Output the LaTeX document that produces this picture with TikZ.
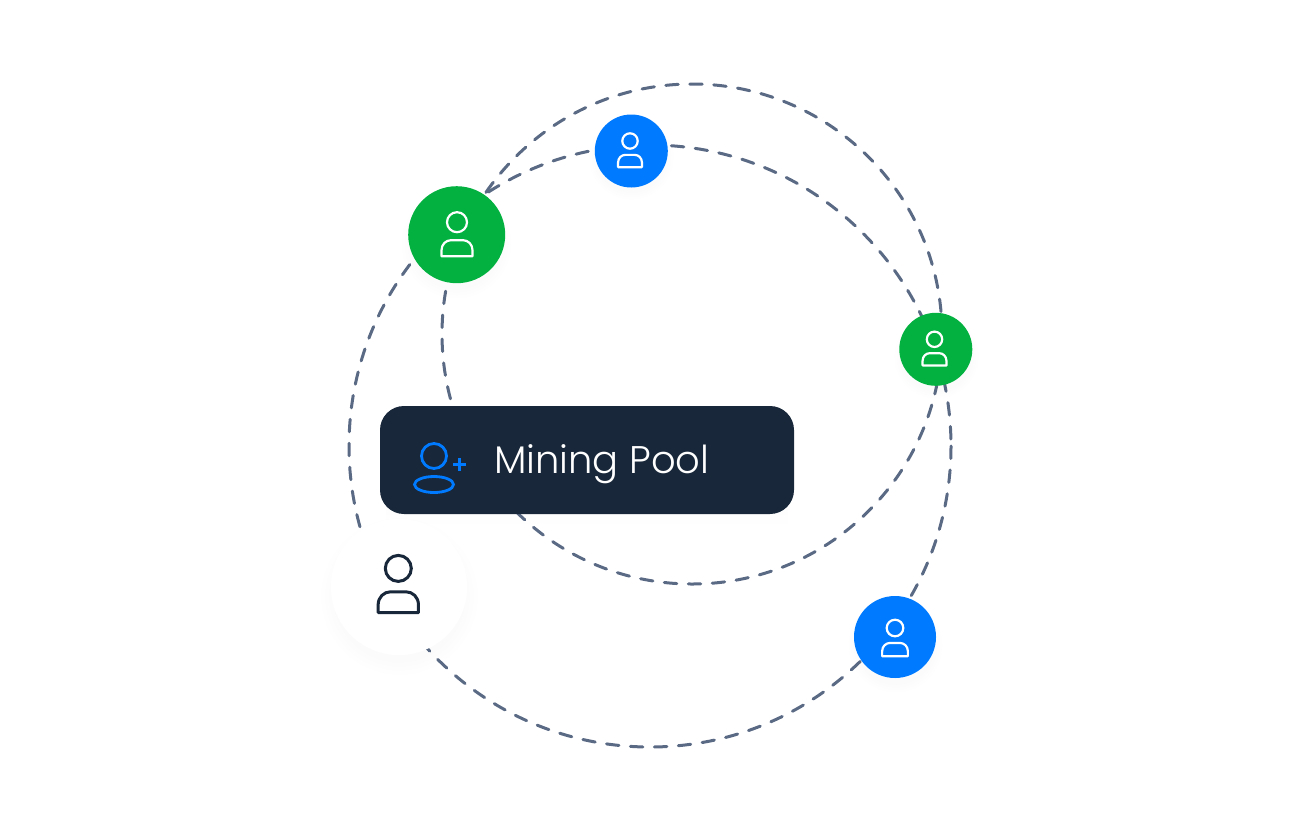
\documentclass[tikz,border=0pt]{standalone}
\usepackage{fontspec}
\setmainfont{Poppins}[UprightFont=* Light]
\usetikzlibrary{fadings}

\definecolor{ringgray}{HTML}{5A6A85}
\definecolor{poolgreen}{HTML}{03B140}
\definecolor{poolblue}{HTML}{007BFF}
\definecolor{carddark}{HTML}{182739}

\tikzset{
  pics/personicon/.style={code={
    \draw[pic actions] (0,-13) circle (10);
    \draw[pic actions, line join=round] (-15.5,21) -- (-15.5,15) .. controls (-15.5,9) and (-11,5) .. (-6,5) -- (6,5) .. controls (11,5) and (15.5,9) .. (15.5,15) -- (15.5,21) -- cycle;
  }}
}

\begin{document}
\begin{tikzpicture}[x=1pt,y=-1pt]
      \tikzstyle{ring}=[draw=ringgray, line width=3pt, line cap=round, dash pattern=on 12.5pt off 11.5pt]
      \tikzstyle{member}=[circle, inner sep=0pt]
      \tikzstyle{softglow}=[fill=black, opacity=0.014, path fading=circle with fuzzy edge 20 percent]
      \tikzstyle{icon}=[draw=white, line width=2.2pt]

      \useasboundingbox (0,0) rectangle (1300,833);

      \coordinate (ringTop) at (692,334);
      \coordinate (ringLow) at (650,446);
      \draw[ring] (ringTop) circle (250);
      \draw[ring] (ringLow) circle (301);

      \foreach \cx/\cy/\cr in {399/596/80, 456/243/56, 631/157/43, 936/356/43, 895/645/48}
        \fill[softglow] (\cx,\cy) circle (\cr);
      \fill[black, opacity=0.012, path fading=south] (386,500) rectangle (788,528);

      \node[member, fill=white, minimum size=136pt] (Solo) at (399,587) {};
      \node[member, fill=poolgreen, minimum size=97pt] (GreenBig) at (456.7,234.7) {};
      \node[member, fill=poolblue, minimum size=73pt] (BlueTop) at (631.3,151) {};
      \node[member, fill=poolgreen, minimum size=73pt] (GreenRight) at (935.8,349.3) {};
      \node[member, fill=poolblue, minimum size=82pt] (BlueLow) at (895,637) {};
      \node[fill=carddark, rounded corners=24pt, minimum width=414pt, minimum height=108pt, inner sep=0pt] (Card) at (587,460) {};
      \node[text=white, anchor=base west, font=\fontsize{38.5}{46}\selectfont, inner sep=0pt] (CardText) at (494,473.5) {Mining Pool};

      \pic[icon, draw=carddark, line width=3pt, scale=1.3] at ([shift={(-0.7,-1.7)}]Solo) {personicon};
      \pic[icon] at ([shift={(0.3,0.5)}]GreenBig) {personicon};
      \pic[icon, scale=0.77] at ([shift={(-1.3,0)}]BlueTop) {personicon};
      \pic[icon, scale=0.77] at ([shift={(-1.3,0)}]GreenRight) {personicon};
      \pic[icon, scale=0.83] at ([shift={(0,1.8)}]BlueLow) {personicon};

      \draw[poolblue, line width=2.8pt] (434,456) circle (12.5);
      \draw[poolblue, line width=2.8pt] (434,484.5) ellipse (19.5 and 8);
      \draw[poolblue, line width=2.8pt] (453,464.5) -- (466,464.5) (459.5,458) -- (459.5,471);
\end{tikzpicture}
\end{document}
